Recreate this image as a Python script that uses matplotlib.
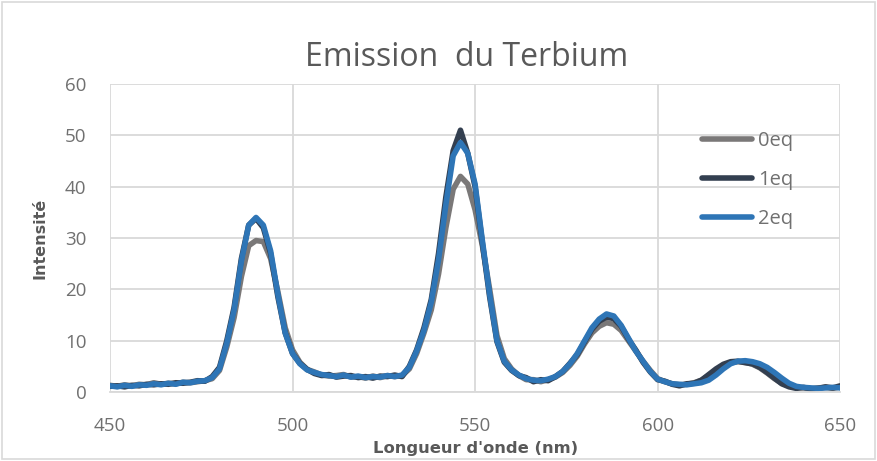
import numpy as np
import matplotlib.pyplot as plt
from matplotlib.patches import Rectangle

plt.rcParams['font.family'] = ['Open Sans', 'DejaVu Sans']

# longueurs d'onde (nm), pas de 2 nm
wavelength = np.arange(450, 651, 2)

eq0 = [1.3, 1.1, 1.4, 1.2, 1.5, 1.4, 1.8, 1.5, 1.7, 1.6, 1.9, 1.8, 2.0, 2.2,
       2.6, 4.2, 8.8, 14.5, 22.5, 28.5, 29.5, 29.3, 26.0, 19.5, 12.5, 8.2, 5.8, 4.4, 3.9, 3.3,
       3.1, 3.2, 3.4, 2.9, 3.0, 2.7, 3.1, 2.8, 3.2, 3.0,
       3.2, 4.5, 7.5, 11.5, 16.0, 23.0, 32.0, 39.5, 42.0, 40.5,
       35.5, 28.5, 20.0, 11.0, 6.5, 4.5, 3.2, 2.4, 2.4, 2.0,
       2.4, 2.9, 3.8, 5.2, 7.0, 9.4, 11.5, 12.8, 13.5, 13.2,
       12.0, 10.0, 8.0, 6.0, 4.2, 2.6, 2.0, 1.6, 1.4, 1.5,
       1.8, 2.3, 3.2, 4.3, 5.2, 5.7, 5.9, 5.8, 5.4, 4.7,
       3.7, 2.6, 1.7, 1.2, 0.9, 0.8, 0.6, 0.8, 0.9, 0.7,
       1.0]

eq1 = [1.1, 1.2, 1.0, 1.3, 1.2, 1.5, 1.4, 1.6, 1.5, 1.8, 1.7, 1.9, 2.2, 2.1,
       3.0, 4.8, 10.0, 16.5, 26.0, 32.5, 33.8, 32.0, 27.0, 18.5, 11.5, 7.5, 5.6, 4.4, 3.6, 3.2,
       3.4, 2.9, 3.1, 3.2, 2.8, 3.0, 2.7, 3.1, 3.0, 3.3,
       3.0, 5.0, 8.2, 12.5, 18.0, 27.0, 38.0, 47.0, 51.0, 46.5,
       40.0, 29.0, 18.5, 9.8, 5.8, 4.2, 3.2, 2.8, 2.0, 2.4,
       2.2, 3.0, 4.0, 5.6, 7.3, 9.8, 12.2, 13.8, 14.6, 14.3,
       12.8, 10.3, 8.2, 5.8, 3.9, 2.4, 2.1, 1.5, 1.2, 1.6,
       1.7, 2.3, 3.4, 4.5, 5.4, 5.9, 6.0, 5.7, 5.5, 4.8,
       3.8, 2.7, 1.6, 1.0, 0.7, 0.9, 0.6, 0.7, 1.0, 0.8,
       1.2]

eq2 = [1.2, 1.0, 1.3, 1.1, 1.4, 1.3, 1.6, 1.4, 1.7, 1.5, 1.9, 1.8, 2.1, 2.2,
       2.8, 4.5, 9.5, 16.0, 25.5, 32.5, 34.0, 32.5, 27.5, 19.0, 11.5, 7.5, 5.5, 4.3, 3.8, 3.4,
       3.2, 3.0, 3.3, 2.9, 3.1, 2.8, 3.0, 2.9, 3.2, 3.0,
       3.3, 4.8, 8.0, 12.0, 17.5, 25.8, 36.5, 46.0, 48.6, 46.5,
       40.5, 29.5, 19.0, 10.0, 6.0, 4.3, 3.3, 2.6, 2.3, 2.2,
       2.5, 3.0, 4.0, 5.5, 7.5, 10.0, 12.5, 14.2, 15.2, 14.8,
       13.0, 10.5, 8.0, 6.0, 4.0, 2.5, 2.0, 1.6, 1.5, 1.4,
       1.6, 1.8, 2.3, 3.3, 4.5, 5.5, 6.0, 6.1, 5.9, 5.5,
       4.8, 3.8, 2.7, 1.7, 1.1, 0.9, 0.8, 0.7, 0.8, 0.9,
       0.8]

series = [('0eq', eq0, '#7a7878'), ('1eq', eq1, '#333f50'), ('2eq', eq2, '#2e75b6')]

txt = '#595959'
tick_col = '#707070'
fig = plt.figure(figsize=(8.77, 4.61), dpi=100)
ax = fig.add_axes([0.1254, 0.1497, 0.958 - 0.1254, 0.8178 - 0.1497])

for name, vals, col in series:
    ax.plot(wavelength, vals, color=col, lw=4.0, label=name,
            solid_capstyle='round', solid_joinstyle='round')

ax.set_xlim(450, 650)
ax.set_ylim(0, 60)
ax.set_xticks(range(450, 651, 50))
ax.set_yticks(range(0, 61, 10))
ax.grid(True, color='#d9d9d9', lw=1.3)
ax.set_axisbelow(True)
for s in ['top', 'right', 'left']:
    ax.spines[s].set_visible(False)
ax.spines['bottom'].set_color('#d9d9d9')
ax.spines['bottom'].set_linewidth(1.3)
ax.tick_params(axis='x', length=0, labelsize=13.5, colors=tick_col, pad=18)
ax.tick_params(axis='y', length=0, labelsize=13.5, colors=tick_col, pad=17)

fig.text(0.532, 0.875, 'Emission  du Terbium', fontsize=23, color=txt,
         ha='center', va='center')
ax.set_xlabel("Longueur d'onde (nm)", fontsize=11.8, fontweight='bold', color=txt,
              family='DejaVu Sans')
ax.set_ylabel('Intensité', fontsize=11.5, fontweight='bold', color=txt,
              family='DejaVu Sans')
ax.xaxis.set_label_coords(0.5, -0.16)
ax.yaxis.set_label_coords(-0.086, 0.5)

leg = fig.legend(loc='upper left', bbox_to_anchor=(0.8, 0.716), frameon=False,
                 fontsize=14.5, handlelength=2.5, handletextpad=0.3,
                 labelspacing=0.95, borderpad=0, borderaxespad=0)
for t in leg.get_texts():
    t.set_color(tick_col)

fig.patches.append(Rectangle((0.002, 0.004), 0.996, 0.992, transform=fig.transFigure,
                             fill=False, edgecolor='#d9d9d9', lw=1.2))

fig.savefig('out.png', dpi=100)
